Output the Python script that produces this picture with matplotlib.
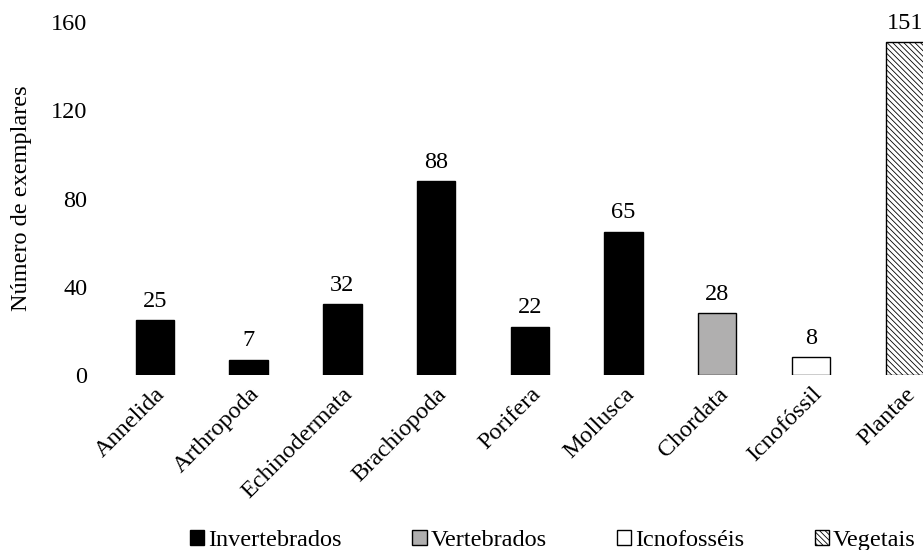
import matplotlib
matplotlib.use("Agg")
import matplotlib.pyplot as plt
from matplotlib.patches import Patch
from matplotlib.transforms import ScaledTranslation

plt.rcParams['font.family'] = ['Liberation Serif', 'DejaVu Serif']
plt.rcParams['hatch.linewidth'] = 0.6

categories = ["Annelida", "Arthropoda", "Echinodermata", "Brachiopoda", "Porifera",
              "Mollusca", "Chordata", "Icnofóssil", "Plantae"]
values = [25, 7, 32, 88, 22, 65, 28, 8, 151]
groups = ["Invertebrados"] * 6 + ["Vertebrados", "Icnofosséis", "Vegetais"]
yticks = [0, 40, 80, 120, 160]

styles = {
    "Invertebrados": dict(facecolor="#000000", hatch=None),
    "Vertebrados": dict(facecolor="#b0afaf", hatch=None),
    "Icnofosséis": dict(facecolor="#ffffff", hatch=None),
    "Vegetais": dict(facecolor="#ffffff", hatch="\\\\\\\\\\\\"),
}

fig = plt.figure(figsize=(9.23, 5.5), dpi=100)
ax = fig.add_axes([0.117, 0.318, 0.914, 0.642])

FS = 17.5
x = list(range(len(categories)))
for xi, v, g in zip(x, values, groups):
    st = styles[g]
    ax.bar(xi, v, width=0.41, color=st["facecolor"], edgecolor="black",
           linewidth=1.0, hatch=st["hatch"], zorder=2)
    ax.annotate(str(v), (xi, v), xytext=(0, 6), textcoords="offset points",
                ha="center", va="bottom", fontsize=FS)

ax.set_xlim(-0.5, 8.5)
ax.set_ylim(0, 160)
ax.set_yticks(yticks)
ax.set_yticklabels([str(t) for t in yticks], fontsize=FS)
ax.set_xticks(x)
ax.set_xticklabels(categories, fontsize=FS, rotation=45, ha="right",
                   rotation_mode="anchor")
off = ScaledTranslation(10 / 100, -12 / 100, fig.dpi_scale_trans)
for lab in ax.get_xticklabels():
    lab.set_transform(lab.get_transform() + off)
ax.tick_params(axis="both", length=0)
ax.tick_params(axis="y", pad=15)
ax.tick_params(axis="x", pad=6)
for s in ax.spines.values():
    s.set_visible(False)
ax.set_ylabel("Número de exemplares", fontsize=FS)
ax.yaxis.set_label_coords(-0.09, 0.5)

handles = [Patch(facecolor=styles[k]["facecolor"], edgecolor="black",
                 hatch=styles[k]["hatch"], linewidth=1.0, label=k)
           for k in ["Invertebrados", "Vertebrados", "Icnofosséis", "Vegetais"]]
fig.legend(handles=handles, loc="lower right", bbox_to_anchor=(1.0, -0.015),
           ncol=4, frameon=False, fontsize=FS, handlelength=0.6,
           handleheight=0.6, handletextpad=0.15, columnspacing=2.9,
           borderaxespad=0.0, borderpad=0.3)

fig.savefig("out.png", dpi=100)
